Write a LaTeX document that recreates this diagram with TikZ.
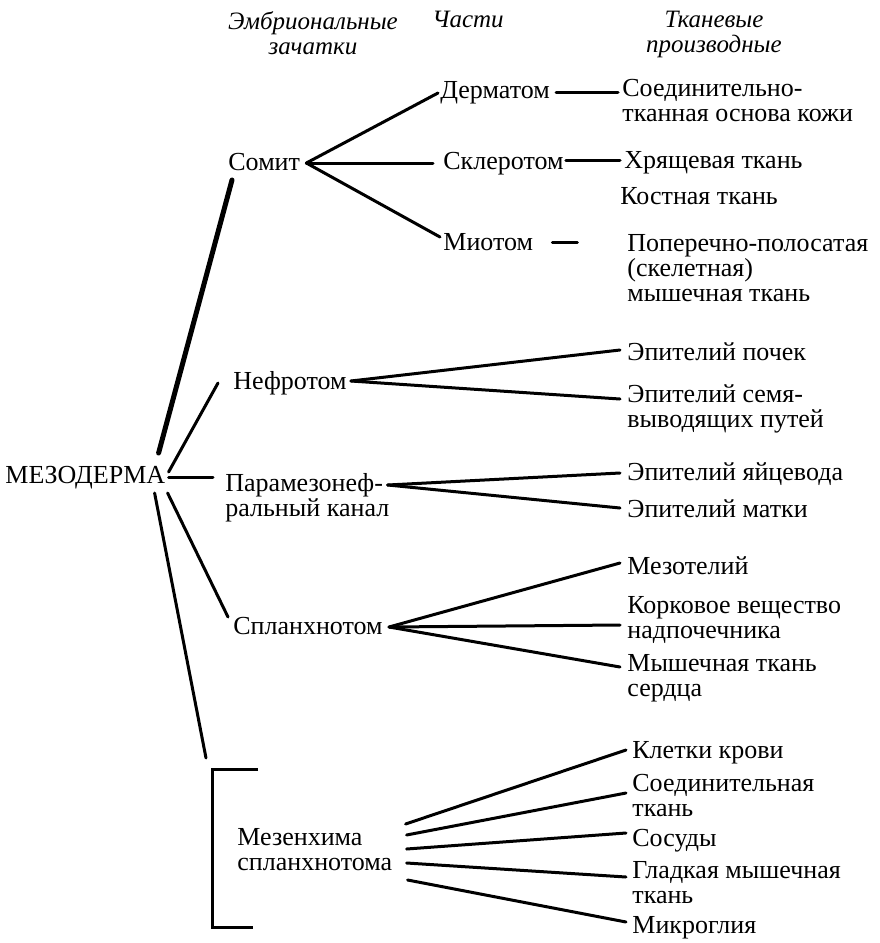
\documentclass[tikz,border=0pt]{standalone}
\usepackage{fontspec}
\setmainfont{Liberation Serif}
\usetikzlibrary{calc}

\newcommand{\bodyfont}{\fontsize{13}{12.5}\selectfont}
\newcommand{\headfont}{\fontsize{12.5}{12.5}\selectfont\itshape}

\tikzset{
  lbl/.style={inner sep=0pt, anchor=north west, align=left, font=\bodyfont},
  head/.style={inner sep=0pt, anchor=north, align=center, font=\headfont},
  link/.style={line width=1.5pt},
}

\begin{document}
\begin{tikzpicture}[x=0.5pt, y=-0.5pt, line cap=round]
    \useasboundingbox (0,0) rectangle (879,943);

    % --- Column headers ---
    \node[head] (hEmbr) at (313,11) {Эмбриональные\\зачатки};
    \node[head] (hParts) at (468,11) {Части};
    \node[head] (hTiss) at (714,11) {Тканевые\\производные};

    % --- Germ layer ---
    \node[lbl] (mezo) at (5,466) {МЕЗОДЕРМА};

    % --- Rudiments ---
    \node[lbl] (somit) at (228,153) {Сомит};
    \node[lbl] (nefr) at (233,371) {Нефротом};
    \node[lbl] (param) at (225,473) {Парамезонеф-\\ральный канал};
    \node[lbl] (splan) at (233,617) {Спланхнотом};
    \node[lbl] (mezenh) at (237,828) {Мезенхима\\спланхнотома};

    % --- Parts of the somite ---
    \node[lbl] (derm) at (440,81) {Дерматом};
    \node[lbl] (skler) at (443,152) {Склеротом};
    \node[lbl] (miot) at (443,233) {Миотом};

    % --- Tissue derivatives ---
    \node[lbl] (kozha) at (622,79) {Соединительно-\\тканная основа кожи};
    \node[lbl] (hrjasch) at (624,151) {Хрящевая ткань};
    \node[lbl] (kost) at (620,187) {Костная ткань};
    \node[lbl] (myshsk) at (627,234) {Поперечно-полосатая\\(скелетная)\\мышечная ткань};
    \node[lbl] (epipoch) at (627,342) {Эпителий почек};
    \node[lbl] (episemja) at (627,384) {Эпителий семя-\\выводящих путей};
    \node[lbl] (epijaic) at (627,462) {Эпителий яйцевода};
    \node[lbl] (epimatk) at (627,499) {Эпителий матки};
    \node[lbl] (mezot) at (627,556) {Мезотелий};
    \node[lbl] (kork) at (627,596) {Корковое вещество\\надпочечника};
    \node[lbl] (serdce) at (627,654) {Мышечная ткань\\сердца};
    \node[lbl] (kletki) at (632,741) {Клетки крови};
    \node[lbl] (soed) at (632,774) {Соединительная\\ткань};
    \node[lbl] (sosud) at (632,829) {Сосуды};
    \node[lbl] (gladk) at (632,861) {Гладкая мышечная\\ткань};
    \node[lbl] (mikro) at (632,916) {Микроглия};

    % --- Mesoderm to rudiments ---
    \coordinate (brk) at (206,758);
    \draw[line width=2.5pt] ($(mezo.north east)+(-7,-13)$) -- ($(somit.north west)+(4,27)$);
    \draw[link] ($(mezo.north east)+(3,6)$) -- ($(nefr.north west)+(-15,12)$);
    \draw[link] ($(mezo.north east)+(3,11)$) -- ($(param.north west)+(-12,4)$);
    \draw[link] ($(mezo.north east)+(2,27)$) -- ($(splan.north west)+(-5,0)$);
    \draw[link] ($(mezo.north east)+(-11,27)$) -- (brk);

    % bracket round the mesenchyme
    \draw[link, line cap=butt] (258,769) -- (212,769) -- (212,927) -- (253,927);

    % --- Somite to its parts ---
    \draw[link] ($(somit.north east)+(6,10)$) -- ($(derm.north west)+(-2,12)$);
    \draw[link] ($(somit.north east)+(6,10)$) -- ($(skler.north west)+(-10,11)$);
    \draw[link] ($(somit.north east)+(6,10)$) -- ($(miot.north west)+(-3,4)$);

    % --- Parts to tissues ---
    \draw[link] ($(derm.north east)+(6,11)$) -- ($(kozha.north west)+(-4,13)$);
    \draw[link] ($(skler.north east)+(2,8)$) -- ($(hrjasch.north west)+(-4,9)$);
    \draw[link] ($(miot.north east)+(19,9)$) -- ($(miot.north east)+(44,9)$);

    % --- Rudiments to tissues ---
    \draw[link] ($(nefr.north east)+(4,10)$) -- ($(epipoch.north west)+(-7,8)$);
    \draw[link] ($(nefr.north east)+(4,10)$) -- ($(episemja.north west)+(-7,15)$);
    \draw[link] ($(param.north east)+(-2,12)$) -- ($(epijaic.north west)+(-7,11)$);
    \draw[link] ($(param.north east)+(-2,12)$) -- ($(epimatk.north west)+(-7,9)$);
    \draw[link] ($(splan.north east)+(6,10)$) -- ($(mezot.north west)+(-7,7)$);
    \draw[link] ($(splan.north east)+(6,10)$) -- ($(kork.north west)+(-7,29)$);
    \draw[link] ($(splan.north east)+(6,10)$) -- ($(serdce.north west)+(-7,13)$);

    % --- Mesenchyme to tissues ---
    \draw[link] ($(mezenh.north east)+(13,-4)$) -- ($(kletki.north west)+(-6,9)$);
    \draw[link] ($(mezenh.north east)+(14,7)$) -- ($(soed.north west)+(-6,19)$);
    \draw[link] ($(mezenh.north east)+(14,21)$) -- ($(sosud.north west)+(-6,4)$);
    \draw[link] ($(mezenh.north east)+(14,35)$) -- ($(gladk.north west)+(-6,16)$);
    \draw[link] ($(mezenh.north east)+(15,52)$) -- ($(mikro.north west)+(-6,6)$);

\end{tikzpicture}
\end{document}
